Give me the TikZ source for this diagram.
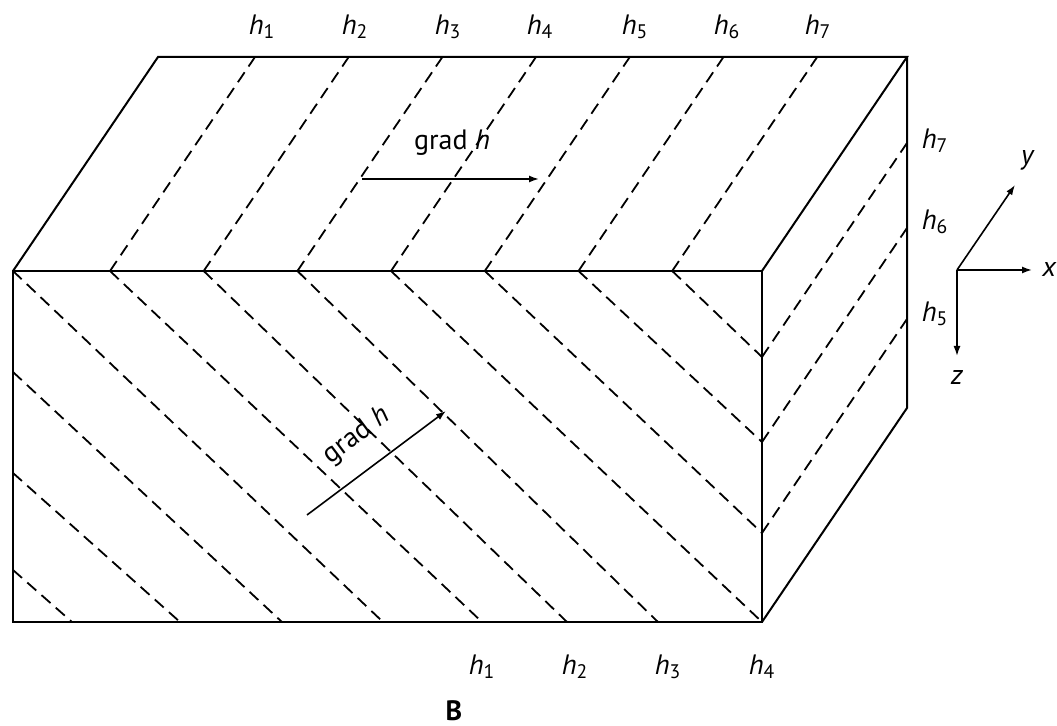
\documentclass[tikz,border=0pt]{standalone}
\usepackage{fontspec}
\setmainfont{PT Sans}
\usetikzlibrary{arrows.meta}
\newcommand{\hlev}[1]{\textit{h}\textsubscript{#1}}

\begin{document}
\begin{tikzpicture}[
  x=0.5pt,y=-0.5pt,
  every node/.style={font=\fontsize{14}{16}\selectfont},
  face/.style={line width=1pt,line join=miter},
  iso/.style={line width=0.9pt,dash pattern=on 6pt off 3.5pt},
  grad/.style={-{Latex[length=5pt,width=3.5pt]},line width=0.8pt},
  axis/.style={-{Latex[length=5pt,width=3.5pt]},line width=0.8pt},
  hlab/.style={inner sep=0pt}
]
  \useasboundingbox (0,0) rectangle (1057,726);

  % corners of the block
  \coordinate (ftl) at (13,271);
  \coordinate (ftr) at (762,271);
  \coordinate (fbr) at (762,622);
  \coordinate (fbl) at (13,622);
  \coordinate (btl) at (158,57);
  \coordinate (btr) at (907,57);
  \coordinate (bbr) at (907,408);

  % equipotential lines, top face
  \foreach \p in {110,203.7,297.4,391,484.8,578.5,672.2}
    \draw[iso] (\p,271) -- ++(145,-214);
  % front face
  \foreach \xa/\ya/\xb/\yb in {13/570/72/622,13/473/180/622,13/372/282/622,
      13/271/383/622,110/271/482/622,203.7/271/567/622,297.4/271/658/622,
      391/271/762/622,484.8/271/762/533,578.5/271/762/442,672.2/271/762/357}
    \draw[iso] (\xa,\ya) -- (\xb,\yb);
  % side face
  \foreach \y in {357,442,533}
    \draw[iso] (762,\y) -- ++(145,-214);

  \draw[face] (ftl) rectangle (fbr);
  \draw[face] (ftl) -- (btl) -- (btr) -- (ftr);
  \draw[face] (btr) -- (bbr) -- (fbr);

  % labels
  \foreach \i/\x in {1/262,2/355,3/448,4/540,5/635,6/727,7/818}
    \node[hlab] (top\i) at (\x,27) {\hlev{\i}};
  \foreach \i/\y in {7/141,6/222,5/314}
    \node[hlab] (side\i) at (935,\y) {\hlev{\i}};
  \foreach \i/\x in {1/482,2/575,3/668,4/762}
    \node[hlab] (bot\i) at (\x,667) {\hlev{\i}};

  % gradient arrows
  \coordinate (gta) at (362,179);
  \coordinate (gtb) at (539,179);
  \draw[grad] (gta) -- (gtb);
  \node[hlab] (gradtop) at (452,143) {grad \textit{h}};
  \coordinate (gfa) at (307,515);
  \coordinate (gfb) at (446,411);
  \draw[grad] (gfa) -- (gfb);
  \node[hlab,rotate=37] (gradfront) at (357,436) {grad \textit{h}};

  % axes
  \coordinate (org) at (957,270);
  \coordinate (xend) at (1032,270);
  \coordinate (yend) at (1015,185);
  \coordinate (zend) at (957,356);
  \draw[axis] (org) -- (xend);
  \draw[axis] (org) -- (yend);
  \draw[axis] (org) -- (zend);
  \node[hlab,anchor=west] (xlab) at (1042,270) {\textit{x}};
  \node[hlab] (ylab) at (1028,160) {\textit{y}};
  \node[hlab] (zlab) at (957,378) {\textit{z}};

  \node[hlab,font=\fontsize{14}{16}\selectfont\bfseries] (panel) at (454,711) {B};
\end{tikzpicture}
\end{document}
